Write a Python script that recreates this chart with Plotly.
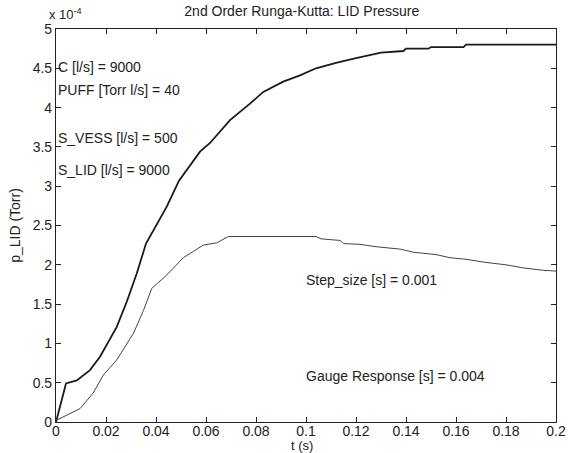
import plotly.graph_objects as go

# Upper curve: LID pressure (x 1e-4 Torr)
t_lid = [0.0, 0.004, 0.0083, 0.0136, 0.0176, 0.0203, 0.0243, 0.0283, 0.0323, 0.036,
         0.0383, 0.0443, 0.0492, 0.0536, 0.0576, 0.0616, 0.0696, 0.0776, 0.0829,
         0.0909, 0.0976, 0.104, 0.112, 0.120, 0.126, 0.130, 0.139, 0.140, 0.149,
         0.150, 0.163, 0.164, 0.2]
p_lid = [0.0, 0.49, 0.53, 0.66, 0.83, 0.98, 1.21, 1.53, 1.89, 2.27,
         2.40, 2.74, 3.07, 3.27, 3.44, 3.55, 3.84, 4.05, 4.20,
         4.33, 4.41, 4.50, 4.57, 4.63, 4.67, 4.70, 4.72, 4.75, 4.75,
         4.77, 4.77, 4.80, 4.80]

# Lower curve: gauge reading
t_gauge = [0.0, 0.0043, 0.0096, 0.0149, 0.019, 0.0243, 0.031, 0.035, 0.0383, 0.0443,
           0.0509, 0.0549, 0.0589, 0.0643, 0.069, 0.104, 0.106, 0.1136, 0.115,
           0.1216, 0.128, 0.1376, 0.143, 0.152, 0.1576, 0.164, 0.172, 0.180,
           0.187, 0.195, 0.2]
p_gauge = [0.02, 0.09, 0.17, 0.37, 0.60, 0.79, 1.13, 1.42, 1.70, 1.87,
           2.09, 2.17, 2.25, 2.28, 2.36, 2.36, 2.33, 2.31, 2.27,
           2.26, 2.23, 2.20, 2.16, 2.13, 2.09, 2.07, 2.03, 2.00,
           1.96, 1.93, 1.92]

x_ticks = [0, 0.02, 0.04, 0.06, 0.08, 0.1, 0.12, 0.14, 0.16, 0.18, 0.2]
x_tick_labels = ["0", "0.02", "0.04", "0.06", "0.08", "0.1", "0.12", "0.14", "0.16", "0.18", "0.2"]
y_ticks = [0, 0.5, 1, 1.5, 2, 2.5, 3, 3.5, 4, 4.5, 5]
y_tick_labels = ["0", "0.5", "1", "1.5", "2", "2.5", "3", "3.5", "4", "4.5", "5"]

left_notes = ["C [l/s] = 9000", "PUFF [Torr l/s] = 40", "S_VESS [l/s] = 500", "S_LID [l/s] = 9000"]
left_note_y = [4.52, 4.22, 3.61, 3.21]
right_notes = ["Step_size [s] = 0.001", "Gauge Response [s] = 0.004"]
right_note_y = [1.81, 0.59]

FONT = "Liberation Sans, Arial, sans-serif"
FS = 14

fig = go.Figure()
fig.add_trace(go.Scatter(x=t_lid, y=p_lid, mode="lines",
                         line=dict(color="#1a1a1a", width=1.8), showlegend=False))
fig.add_trace(go.Scatter(x=t_gauge, y=p_gauge, mode="lines",
                         line=dict(color="#444444", width=1), showlegend=False))

for txt, yy in zip(left_notes, left_note_y):
    fig.add_annotation(x=0, y=yy, xref="x", yref="y", text=txt, showarrow=False,
                       xanchor="left", yanchor="middle", xshift=0,
                       font=dict(family=FONT, size=FS, color="#222"))
for txt, yy in zip(right_notes, right_note_y):
    fig.add_annotation(x=0.0992, y=yy, xref="x", yref="y", text=txt, showarrow=False,
                       xanchor="left", yanchor="middle",
                       font=dict(family=FONT, size=FS, color="#222"))

fig.add_annotation(x=0, y=1, xref="paper", yref="paper", text="x 10<sup>-4</sup>",
                   showarrow=False, xanchor="left", yanchor="bottom", xshift=-9, yshift=5,
                   font=dict(family=FONT, size=13, color="#222"))

# x-axis title placed just under the tick labels
fig.add_annotation(x=0.492, y=0, xref="paper", yref="paper", text="t (s)",
                   showarrow=False, xanchor="center", yanchor="middle", yshift=-23,
                   borderpad=0,
                   font=dict(family=FONT, size=13, color="#222"))

fig.update_layout(
    width=576, height=453,
    margin=dict(l=56, r=20, t=29, b=31),
    paper_bgcolor="white", plot_bgcolor="white",
    font=dict(family=FONT, size=FS, color="#222"),
    title=dict(text="2nd Order Runga-Kutta: LID Pressure", x=0.524, xanchor="center",
               xref="container", y=0.975, yanchor="middle",
               font=dict(family=FONT, size=FS, color="#222")),
    xaxis=dict(range=[0, 0.2], tickvals=x_ticks, ticktext=x_tick_labels,
               ticks="inside", ticklen=5, tickcolor="#222", showline=True, linecolor="#222",
               linewidth=1.2, mirror="allticks", showgrid=False, zeroline=False,
               automargin=False, ticklabelstandoff=-4,
               tickfont=dict(size=FS)),
    yaxis=dict(range=[0, 5], tickvals=y_ticks, ticktext=y_tick_labels,
               ticks="inside", ticklen=5, tickcolor="#222", showline=True, linecolor="#222",
               linewidth=1.2, mirror="allticks", showgrid=False, zeroline=False,
               automargin=False,
               title=dict(text="p_LID (Torr)", standoff=8, font=dict(size=FS)),
               tickfont=dict(size=FS)),
)

fig.write_html("out.html", config={"displayModeBar": False},
               post_script="document.body.style.margin='0';")
